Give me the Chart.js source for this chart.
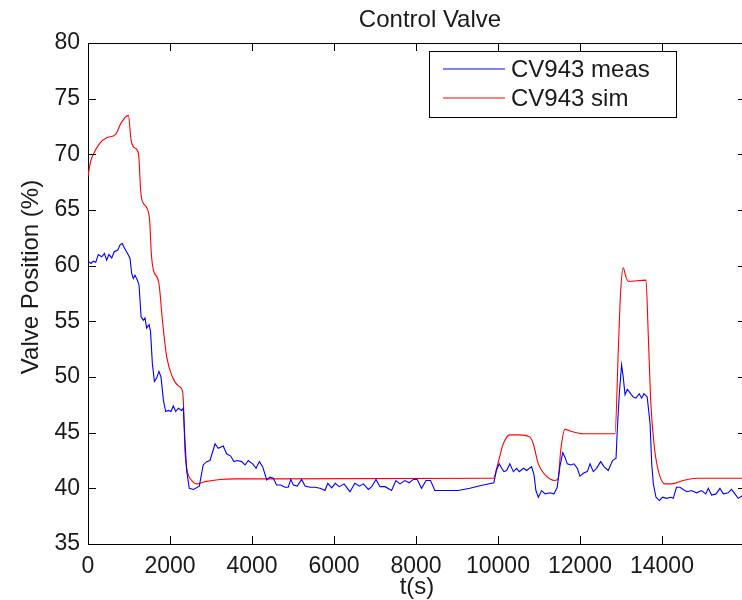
<!DOCTYPE html>
<html lang="en">
<head>
<meta charset="UTF-8">
<title>Control Valve</title>
<script src="https://cdn.jsdelivr.net/npm/chart.js"></script>
<style>
  html, body { margin: 0; padding: 0; background: #fff; overflow: hidden; }
  #wrap { width: 760px; height: 600px; }
</style>
</head>
<body>
<div id="wrap"><canvas id="chart" width="760" height="600"></canvas></div>
<script>
// axis ticks
const xTicks = [0, 2000, 4000, 6000, 8000, 10000, 12000, 14000];
const yTicks = [35, 40, 45, 50, 55, 60, 65, 70, 75, 80];

// CV943 measured (t in s, valve position in %)
const tMeas = [0, 75, 130, 190, 250, 335, 400, 455, 510, 580, 640, 725, 780, 835, 885, 985, 1025, 1065, 1105, 1145,
  1205, 1245, 1295, 1350, 1390, 1430, 1490, 1525, 1570, 1620, 1675, 1730, 1780, 1840, 1895, 1960, 2025, 2080, 2140, 2205,
  2285, 2325, 2365, 2405, 2470, 2570, 2715, 2810, 2895, 2975, 3100, 3175, 3300, 3380, 3480, 3560, 3640, 3750, 3830, 3910,
  4015, 4100, 4180, 4260, 4360, 4440, 4520, 4600, 4700, 4805, 4885, 4945, 5010, 5105, 5210, 5295, 5415, 5535, 5660, 5780,
  5850, 5945, 6030, 6130, 6245, 6390, 6510, 6620, 6715, 6840, 6920, 7025, 7120, 7245, 7405, 7510, 7610, 7730, 7835, 7935,
  8030, 8135, 8245, 8355, 8460, 8665, 8785, 9030, 9315, 9640, 9900, 9960, 10030, 10090, 10145, 10210, 10290, 10375, 10455, 10520,
  10620, 10700, 10820, 10880, 10925, 10985, 11065, 11150, 11270, 11365, 11445, 11510, 11580, 11635, 11690, 11775, 11855, 11935, 12000, 12100,
  12180, 12245, 12325, 12405, 12505, 12585, 12690, 12795, 12880, 12910, 12960, 13015, 13055, 13100, 13155, 13235, 13300, 13365, 13445, 13505,
  13560, 13640, 13710, 13750, 13790, 13855, 13935, 14015, 14115, 14210, 14275, 14355, 14440, 14535, 14615, 14720, 14845, 14965, 15070, 15130,
  15210, 15320, 15415, 15495, 15615, 15695, 15780, 15860, 15950, 16050];
const vMeas = [60.4, 60.2, 60.4, 60.3, 61.0, 60.8, 61.1, 60.5, 61.0, 60.7, 61.25, 61.4, 61.85, 62.0, 61.6, 60.95, 60.65, 59.3, 58.85, 59.15,
  58.7, 58.25, 55.4, 55.1, 55.3, 54.4, 54.7, 54.1, 51.2, 49.6, 49.9, 50.5, 50.0, 47.9, 46.9, 47.0, 46.9, 47.4, 46.9, 47.2,
  47.0, 47.2, 44.3, 41.6, 40.0, 39.9, 40.2, 42.1, 42.4, 42.5, 44.0, 43.6, 43.8, 43.1, 42.9, 42.4, 42.5, 42.4, 42.1, 42.5,
  42.2, 41.8, 42.4, 41.95, 40.75, 41.0, 40.9, 40.3, 40.3, 40.1, 40.1, 40.8, 40.3, 40.2, 40.8, 40.2, 40.1, 40.1, 40.0, 39.8,
  40.45, 40.05, 40.45, 40.15, 40.4, 39.7, 40.45, 40.2, 40.4, 39.9, 40.15, 40.8, 40.15, 40.15, 39.8, 40.7, 40.4, 40.7, 40.5, 40.8,
  40.8, 40.0, 40.7, 40.7, 39.8, 39.8, 39.8, 39.8, 40.0, 40.3, 40.5, 41.6, 42.2, 41.8, 41.5, 41.6, 42.2, 41.5, 41.8, 41.5,
  41.8, 41.6, 41.95, 41.2, 39.8, 39.2, 39.8, 39.5, 39.6, 39.5, 40.1, 41.95, 43.2, 42.8, 42.2, 42.1, 42.2, 41.8, 41.1, 41.4,
  41.5, 42.2, 41.5, 41.8, 42.4, 41.95, 41.6, 42.5, 42.7, 45.2, 48.5, 51.1, 50.0, 48.4, 48.9, 48.5, 48.2, 48.1, 48.5, 48.1,
  48.5, 48.2, 45.8, 42.2, 40.4, 39.2, 38.9, 39.2, 39.1, 39.2, 39.1, 40.1, 40.1, 39.85, 39.7, 39.8, 39.6, 39.8, 39.5, 40.0,
  39.4, 39.5, 40.0, 39.5, 39.6, 39.9, 39.5, 39.1, 39.3, 39.2];

// CV943 simulated
const tSim = [0, 60, 130, 290, 455, 675, 805, 985, 1050, 1130, 1230, 1290, 1350, 1495, 1550, 1595, 1730, 1815, 1920, 2060,
  2205, 2300, 2325, 2365, 2420, 2530, 2650, 2855, 3220, 3600, 9885, 10010, 10130, 10290, 10495, 10780, 10860, 10985, 11150, 11390,
  11470, 11530, 11635, 11800, 12080, 12855, 12935, 12990, 13055, 13120, 13180, 13610, 13665, 13725, 13805, 13910, 14075, 14235, 14520, 14845,
  16050];
const vSim = [68.05, 69.3, 70.0, 71.0, 71.5, 71.8, 72.8, 73.5, 71.3, 70.6, 70.1, 66.5, 65.6, 64.4, 60.8, 59.6, 58.4, 55.1, 51.8, 50.0,
  49.2, 48.8, 47.9, 43.4, 41.6, 40.7, 40.4, 40.6, 40.8, 40.85, 40.9, 42.4, 44.0, 44.8, 44.8, 44.6, 44.0, 42.2, 41.2, 40.7,
  40.9, 43.4, 45.3, 45.1, 44.9, 44.9, 52.4, 57.5, 59.8, 59.0, 58.6, 58.7, 53.9, 47.9, 44.0, 41.6, 40.4, 40.4, 40.7, 40.9,
  40.9];

const FONT = 'Arial, "Liberation Sans", sans-serif';
const INK = '#1a1a1a';
Chart.defaults.font.family = FONT;
Chart.defaults.color = INK;

function toPoints(xs, ys) {
  return xs.map((x, i) => ({ x: x, y: ys[i] }));
}

// MATLAB style box, inward ticks, title, ylabel, legend
const matlabFrame = {
  id: 'matlabFrame',
  afterDraw(chart) {
    const ctx = chart.ctx;
    const a = chart.chartArea;
    const xs = chart.scales.x, ys = chart.scales.y;
    const L = 8;
    ctx.save();
    ctx.strokeStyle = '#000';
    ctx.lineWidth = 1;
    ctx.beginPath();
    ctx.moveTo(a.left, a.top + 0.5);
    ctx.lineTo(a.right, a.top + 0.5);
    ctx.moveTo(a.right - 0.5, a.top);
    ctx.lineTo(a.right - 0.5, a.bottom);
    xTicks.forEach(v => {
      const px = Math.round(xs.getPixelForValue(v)) + 0.5;
      ctx.moveTo(px, a.bottom); ctx.lineTo(px, a.bottom - L);
      ctx.moveTo(px, a.top); ctx.lineTo(px, a.top + L);
    });
    yTicks.forEach(v => {
      const py = Math.round(ys.getPixelForValue(v)) + 0.5;
      ctx.moveTo(a.left, py); ctx.lineTo(a.left + L, py);
      ctx.moveTo(a.right, py); ctx.lineTo(a.right - L, py);
    });
    ctx.stroke();

    // title
    ctx.fillStyle = INK;
    ctx.font = '24px ' + FONT;
    ctx.textAlign = 'center';
    ctx.textBaseline = 'middle';
    ctx.fillText('Control Valve', 430, 20);

    // y label
    ctx.save();
    ctx.translate(31, 277);
    ctx.rotate(-Math.PI / 2);
    ctx.fillText('Valve Position (%)', 0, 0);
    ctx.restore();

    // legend
    const bx = 429.5, by = 51.5, bw = 247, bh = 66;
    ctx.fillStyle = '#fff';
    ctx.fillRect(bx, by, bw, bh);
    ctx.strokeStyle = '#000';
    ctx.strokeRect(bx, by, bw, bh);
    chart.data.datasets.forEach((ds, i) => {
      const y = 69 + i * 29;
      ctx.strokeStyle = ds.borderColor;
      ctx.lineWidth = 1.2;
      ctx.beginPath();
      ctx.moveTo(443, y);
      ctx.lineTo(505, y);
      ctx.stroke();
      ctx.fillStyle = INK;
      ctx.textAlign = 'left';
      ctx.fillText(ds.label, 511, y + 1);
    });
    ctx.restore();
  }
};

new Chart(document.getElementById('chart'), {
  type: 'line',
  data: {
    datasets: [{
      label: 'CV943 meas',
      data: toPoints(tMeas, vMeas),
      borderColor: '#0000ff',
      borderWidth: 1.1,
      pointRadius: 0,
      tension: 0
    }, {
      label: 'CV943 sim',
      data: toPoints(tSim, vSim),
      borderColor: '#ff0000',
      borderWidth: 1.1,
      pointRadius: 0,
      cubicInterpolationMode: 'monotone'
    }]
  },
  options: {
    responsive: false,
    animation: false,
    layout: { padding: { top: 43, right: 14, left: 0, bottom: 0 } },
    plugins: { legend: { display: false }, tooltip: { enabled: false } },
    scales: {
      x: {
        type: 'linear',
        min: 0,
        max: 16050,
        afterBuildTicks: s => { s.ticks = xTicks.map(v => ({ value: v })); },
        afterFit: s => { s.height = 56; },
        grid: { display: true, drawOnChartArea: false, drawTicks: false },
        border: { display: true, color: '#000', width: 1 },
        ticks: { font: { size: 23 }, padding: 9, maxRotation: 0, callback: v => String(v) },
        title: { display: true, text: 't(s)', font: { size: 24 }, padding: { top: 0, bottom: -2 } }
      },
      y: {
        type: 'linear',
        min: 35,
        max: 80,
        afterBuildTicks: s => { s.ticks = yTicks.map(v => ({ value: v })); },
        afterFit: s => { s.width = 88; },
        grid: { display: true, drawOnChartArea: false, drawTicks: false },
        border: { display: true, color: '#000', width: 1 },
        ticks: { font: { size: 23 }, padding: 8, callback: v => String(v) }
      }
    }
  },
  plugins: [matlabFrame]
});
</script>
</body>
</html>
